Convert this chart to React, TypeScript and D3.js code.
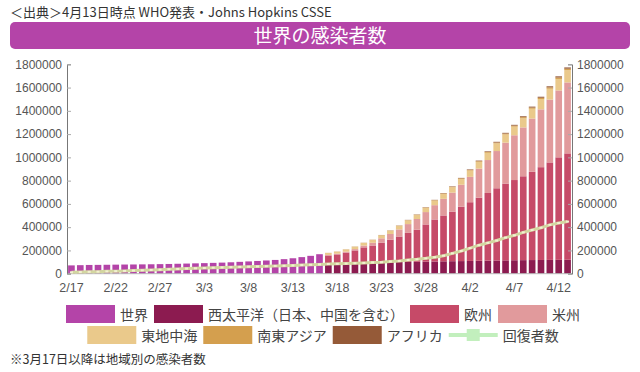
import React from "react";
import * as d3 from "d3";

// x categories (2/17 .. 4/13)
const dates = [
  "2/17", "2/18", "2/19", "2/20", "2/21", "2/22", "2/23", "2/24", "2/25", "2/26", "2/27", "2/28", "2/29",
  "3/1", "3/2", "3/3", "3/4", "3/5", "3/6", "3/7", "3/8", "3/9", "3/10", "3/11", "3/12", "3/13", "3/14",
  "3/15", "3/16", "3/17", "3/18", "3/19", "3/20", "3/21", "3/22", "3/23", "3/24", "3/25", "3/26", "3/27",
  "3/28", "3/29", "3/30", "3/31", "4/1", "4/2", "4/3", "4/4", "4/5", "4/6", "4/7", "4/8", "4/9", "4/10",
  "4/11", "4/12", "4/13",
];
const xTickLabels = ["2/17", "2/22", "2/27", "3/3", "3/8", "3/13", "3/18", "3/23", "3/28", "4/2", "4/7", "4/12"];
const yTicks = [0, 200000, 400000, 600000, 800000, 1000000, 1200000, 1400000, 1600000, 1800000];

// 世界 (2/17 .. 3/16)
const worldCases = [
  71429, 73332, 75204, 75748, 76769, 77794, 78811, 79331, 80239, 81109, 82294, 83652, 85403,
  87137, 88948, 90870, 93090, 95324, 98192, 101927, 105586, 109577, 113702, 118319, 125048, 132758, 142539,
  153517, 167515,
];

// regions (3/17 .. 4/13)
const westernPacific = [
  91779, 92333, 93349, 94288, 95389, 96580, 97766, 99058, 100163, 101415, 102799, 103775, 104868, 106422,
  107537, 108447, 109621, 110967, 112521, 113641, 114743, 115764, 116597, 117339, 117987, 118618, 119049, 119521,
];
const europe = [
  64588, 73476, 87647, 105752, 130981, 145819, 169548, 193567, 219532, 249357, 275779, 319403, 361167, 394202,
  426253, 467179, 504829, 542336, 581414, 620717, 659713, 689358, 720864, 758659, 797665, 837891, 881139, 914763,
];
const americas = [
  4979, 6141, 8047, 11391, 15219, 23335, 37016, 48956, 60834, 75712, 91686, 106500, 123000, 143000,
  163000, 189000, 218000, 250000, 283000, 320000, 352000, 385000, 420000, 458000, 497000, 540000, 575000, 610000,
];
const eastMed = [
  16786, 18060, 19518, 21102, 22601, 24208, 26000, 28000, 30000, 32000, 34000, 36500, 39500, 42400,
  46000, 50000, 54000, 58000, 62500, 66000, 70000, 74000, 79000, 84000, 89000, 93500, 99000, 105000,
];
const southEastAsia = [
  590, 657, 738, 860, 1033, 1200, 1400, 1776, 2000, 2300, 2700, 3000, 3500, 4000,
  4500, 5000, 5500, 6000, 6700, 7400, 8000, 8600, 9300, 10000, 10800, 11500, 12300, 13000,
];
const africa = [
  389, 460, 540, 680, 850, 1000, 1200, 1400, 1650, 1900, 2200, 2500, 2800, 3200,
  3600, 4000, 4500, 5000, 5500, 6000, 6500, 7000, 7600, 8200, 8800, 9400, 10100, 10800,
];

// 回復者数 (2/17 .. 4/13)
const recovered = [
  12000, 14000, 16000, 17500, 20000, 22000, 24000, 26500, 29000, 32000, 35000, 38000, 41000,
  44000, 46500, 49000, 51500, 54000, 56500, 58500, 60500, 62500, 64500, 66500, 68500, 71000, 74000,
  77000, 80000, 83000, 85000, 87000, 90000, 93000, 97000, 99000, 105000, 110000, 118000, 124000,
  132000, 142000, 155000, 175000, 195000, 220000, 245000, 265000, 285000, 310000, 330000, 355000, 375000, 395000,
  420000, 435000, 448000,
];

const regionKeys = ["wpr", "eur", "amr", "emr", "sear", "afr"];
const colors: Record<string, string> = {
  world: "#b444a8",
  wpr: "#8c1b50",
  eur: "#c64a68",
  amr: "#e19a9c",
  emr: "#eac98b",
  sear: "#d49f4e",
  afr: "#955a38",
};

const FONT = "'Noto Sans CJK JP', 'Noto Sans', sans-serif";
const NUM_FONT = "'Liberation Sans', Arial, sans-serif";

export default function App() {
  const svgRef = React.useRef<SVGSVGElement>(null);
  const width = 640;
  const height = 372;

  React.useEffect(() => {
    const svg = d3.select(svgRef.current);
    svg.selectAll("*").remove();

    const left = 67, right = 572, top = 64.3, bottom = 273.7;

    const x = d3.scaleBand<string>().domain(dates).range([left, right]).paddingInner(0.25).paddingOuter(0.125);
    const y = d3.scaleLinear().domain([0, 1800000]).range([bottom, top]);

    // header
    svg.append("text")
      .attr("x", 10).attr("y", 17)
      .attr("font-family", FONT).attr("font-size", 13).attr("fill", "#333")
      .text("＜出典＞4月13日時点 WHO発表・Johns Hopkins CSSE");

    svg.append("rect")
      .attr("x", 10).attr("y", 22).attr("width", 620).attr("height", 27).attr("rx", 5)
      .attr("fill", "#b444a8");
    svg.append("text")
      .attr("x", 320).attr("y", 42.5).attr("text-anchor", "middle")
      .attr("font-family", FONT).attr("font-size", 19).attr("fill", "#fff")
      .text("世界の感染者数");

    // world bars
    svg.append("g").selectAll("rect")
      .data(worldCases)
      .enter()
      .append("rect")
      .attr("x", (d, i) => x(dates[i]) as number)
      .attr("width", x.bandwidth())
      .attr("y", d => y(d))
      .attr("height", d => y(0) - y(d))
      .attr("fill", colors.world);

    // regional stacked bars
    const offset = worldCases.length;
    const rows = westernPacific.map((v, i) => ({
      date: dates[offset + i],
      wpr: v,
      eur: europe[i],
      amr: americas[i],
      emr: eastMed[i],
      sear: southEastAsia[i],
      afr: africa[i],
    }));
    const series = d3.stack<any>().keys(regionKeys)(rows);
    svg.append("g").selectAll("g")
      .data(series)
      .enter()
      .append("g")
      .attr("fill", d => colors[d.key])
      .selectAll("rect")
      .data(d => d)
      .enter()
      .append("rect")
      .attr("x", d => x(d.data.date) as number)
      .attr("width", x.bandwidth())
      .attr("y", d => y(d[1]))
      .attr("height", d => y(d[0]) - y(d[1]));

    // baseline
    svg.append("line")
      .attr("x1", left).attr("x2", right).attr("y1", bottom).attr("y2", bottom)
      .attr("stroke", "#b8b8b8").attr("stroke-width", 1);

    // recovered line
    const cx = (i: number) => (x(dates[i]) as number) + x.bandwidth() / 2;
    const line = d3.line<number>().x((d, i) => cx(i)).y(d => y(d));
    svg.append("path")
      .datum(recovered)
      .attr("d", line)
      .attr("fill", "none")
      .attr("stroke", "#d3d6a0")
      .attr("stroke-width", 3);
    svg.append("g").selectAll("rect")
      .data(recovered)
      .enter()
      .append("rect")
      .attr("x", (d, i) => cx(i) - 1.5)
      .attr("y", d => y(d) - 1)
      .attr("width", 3).attr("height", 2)
      .attr("fill", "#f3f1d2");

    // axes
    const leftAxis = svg.append("g")
      .attr("transform", `translate(${left},0)`)
      .call(d3.axisRight(y).tickValues(yTicks).tickSize(4).tickFormat(d3.format("d")));
    leftAxis.selectAll("text").remove();
    const rightAxis = svg.append("g")
      .attr("transform", `translate(${right},0)`)
      .call(d3.axisLeft(y).tickValues(yTicks).tickSize(4).tickFormat(d3.format("d")));
    rightAxis.selectAll("text").remove();
    [leftAxis, rightAxis].forEach(g => {
      g.select(".domain").attr("stroke", "#777");
      g.selectAll("line").attr("stroke", "#aaa");
    });

    svg.append("g").selectAll("text")
      .data(yTicks)
      .enter()
      .append("text")
      .attr("x", left - 5).attr("y", d => y(d)).attr("dy", "0.35em")
      .attr("text-anchor", "end")
      .attr("font-family", NUM_FONT).attr("font-size", 12).attr("fill", "#555")
      .text(d => String(d));
    svg.append("g").selectAll("text")
      .data(yTicks)
      .enter()
      .append("text")
      .attr("x", right + 5).attr("y", d => y(d)).attr("dy", "0.35em")
      .attr("text-anchor", "start")
      .attr("font-family", NUM_FONT).attr("font-size", 12).attr("fill", "#555")
      .text(d => String(d));

    svg.append("g").selectAll("text")
      .data(xTickLabels)
      .enter()
      .append("text")
      .attr("x", d => (x(d) as number) + x.bandwidth() / 2)
      .attr("y", 292)
      .attr("text-anchor", "middle")
      .attr("font-family", NUM_FONT).attr("font-size", 12.5).attr("fill", "#555")
      .text(d => d);

    // legend
    const legendRows = [
      [
        { label: "世界", key: "world" },
        { label: "西太平洋（日本、中国を含む）", key: "wpr" },
        { label: "欧州", key: "eur" },
        { label: "米州", key: "amr" },
      ],
      [
        { label: "東地中海", key: "emr" },
        { label: "南東アジア", key: "sear" },
        { label: "アフリカ", key: "afr" },
        { label: "回復者数", key: "rec" },
      ],
    ];
    const rowY = [305, 326];
    legendRows.forEach((items, r) => {
      const g = svg.append("g");
      let cursor = 0;
      items.forEach(it => {
        const item = g.append("g").attr("transform", `translate(${cursor},0)`);
        if (it.key === "rec") {
          item.append("rect").attr("x", 0).attr("y", 7).attr("width", 49).attr("height", 4).attr("fill", "#c2efbd");
          item.append("rect").attr("x", 18).attr("y", 3).attr("width", 13).attr("height", 12).attr("fill", "#c2efbd");
        } else {
          item.append("rect").attr("x", 0).attr("y", 0).attr("width", 49).attr("height", 18).attr("fill", colors[it.key]);
        }
        const t = item.append("text")
          .attr("x", 54).attr("y", 14.5)
          .attr("font-family", FONT).attr("font-size", 14).attr("fill", "#444")
          .text(it.label);
        const tw = (t.node() as SVGTextElement).getComputedTextLength();
        cursor += 54 + tw + 6;
      });
      const total = cursor - 6;
      g.attr("transform", `translate(${(width - total) / 2 + 3},${rowY[r]})`);
    });

    svg.append("text")
      .attr("x", 10).attr("y", 364)
      .attr("font-family", FONT).attr("font-size", 12.5).attr("fill", "#333")
      .text("※3月17日以降は地域別の感染者数");
  }, []);

  return (
    <svg
      ref={svgRef}
      width={width}
      height={height}
      style={{ position: "absolute", left: 0, top: 0, background: "#fff" }}
    />
  );
}
